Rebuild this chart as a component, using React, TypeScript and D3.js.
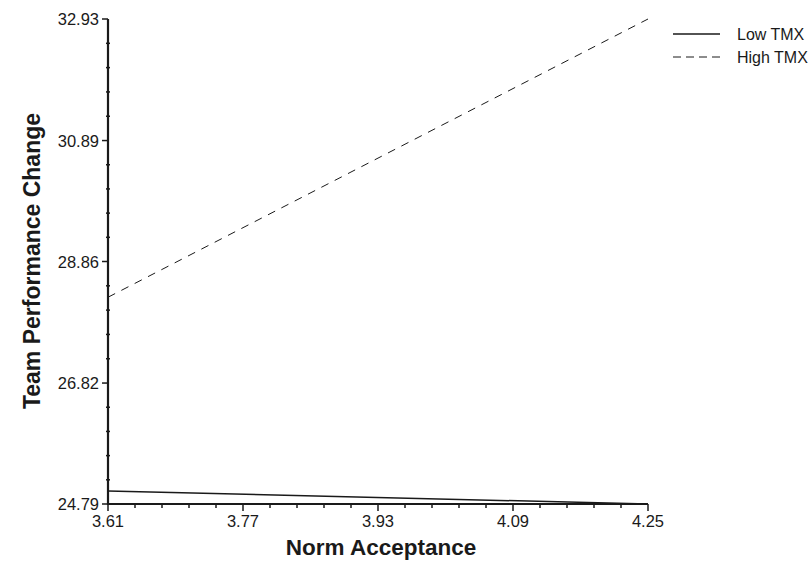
import React, { useEffect, useRef } from "react";
import * as d3 from "d3";

const xTicks = [3.61, 3.77, 3.93, 4.09, 4.25];
const yTicks = [24.79, 26.82, 28.86, 30.89, 32.93];
const seriesNames = ["Low TMX", "High TMX"];
const lowTmx = [25.01, 24.79];
const highTmx = [28.26, 32.93];

const W = 811;
const H = 561;

export default function App() {
  const ref = useRef<SVGSVGElement | null>(null);

  useEffect(() => {
    const svg = d3.select(ref.current);
    svg.selectAll("*").remove();

    const x = d3.scaleLinear().domain([3.61, 4.25]).range([108, 648]);
    const y = d3.scaleLinear().domain([24.79, 32.93]).range([504, 19]);
    const font = "'Liberation Sans', Arial, sans-serif";
    const ink = "#1a1a1a";

    const g = svg.append("g");

    // minor ticks (4 between majors)
    const minorX: number[] = [];
    const minorY: number[] = [];
    for (let i = 0; i < xTicks.length - 1; i++) {
      for (let k = 1; k < 5; k++) {
        minorX.push(xTicks[i] + ((xTicks[i + 1] - xTicks[i]) * k) / 5);
        minorY.push(yTicks[i] + ((yTicks[i + 1] - yTicks[i]) * k) / 5);
      }
    }

    g.selectAll(".mx")
      .data(minorX)
      .join("line")
      .attr("x1", (d) => x(d))
      .attr("x2", (d) => x(d))
      .attr("y1", 504)
      .attr("y2", 508)
      .attr("stroke", ink)
      .attr("stroke-width", 1.5);

    g.selectAll(".my")
      .data(minorY)
      .join("line")
      .attr("x1", 106)
      .attr("x2", 110)
      .attr("y1", (d) => y(d))
      .attr("y2", (d) => y(d))
      .attr("stroke", ink)
      .attr("stroke-width", 1.5);

    g.selectAll(".MX")
      .data(xTicks)
      .join("line")
      .attr("x1", (d) => x(d))
      .attr("x2", (d) => x(d))
      .attr("y1", 504)
      .attr("y2", 511)
      .attr("stroke", ink)
      .attr("stroke-width", 1.5);

    g.selectAll(".MY")
      .data(yTicks)
      .join("line")
      .attr("x1", 102)
      .attr("x2", 108)
      .attr("y1", (d) => y(d))
      .attr("y2", (d) => y(d))
      .attr("stroke", ink)
      .attr("stroke-width", 1.5);

    // axis lines
    g.append("line")
      .attr("x1", 108).attr("x2", 108)
      .attr("y1", y(32.93)).attr("y2", 505)
      .attr("stroke", ink).attr("stroke-width", 2.2);
    g.append("line")
      .attr("x1", 107).attr("x2", x(4.25))
      .attr("y1", 504).attr("y2", 504)
      .attr("stroke", ink).attr("stroke-width", 2.2);

    // tick labels
    g.selectAll(".xl")
      .data(xTicks)
      .join("text")
      .attr("x", (d) => x(d))
      .attr("y", 527)
      .attr("text-anchor", "middle")
      .attr("font-family", font)
      .attr("font-size", 16.5)
      .attr("fill", ink)
      .text((d) => d.toFixed(2));

    g.selectAll(".yl")
      .data(yTicks)
      .join("text")
      .attr("x", 99)
      .attr("y", (d) => y(d) + 6)
      .attr("text-anchor", "end")
      .attr("font-family", font)
      .attr("font-size", 16.5)
      .attr("fill", ink)
      .text((d) => d.toFixed(2));

    // axis titles
    g.append("text")
      .attr("x", 381)
      .attr("y", 555)
      .attr("text-anchor", "middle")
      .attr("font-family", font)
      .attr("font-weight", "bold")
      .attr("font-size", 22.5)
      .attr("fill", ink)
      .text("Norm Acceptance");

    g.append("text")
      .attr("transform", "translate(40,261) rotate(-90)")
      .attr("text-anchor", "middle")
      .attr("font-family", font)
      .attr("font-weight", "bold")
      .attr("font-size", 23)
      .attr("fill", ink)
      .text("Team Performance Change");

    // lines
    const line = d3
      .line<number>()
      .x((_, i) => x([xTicks[0], xTicks[xTicks.length - 1]][i]))
      .y((d) => y(d));

    g.append("path")
      .attr("d", line(lowTmx))
      .attr("fill", "none")
      .attr("stroke", ink)
      .attr("stroke-width", 1.5);

    g.append("path")
      .attr("d", line(highTmx))
      .attr("fill", "none")
      .attr("stroke", ink)
      .attr("stroke-width", 1)
      .attr("stroke-dasharray", "8,7");

    // legend
    const leg = g.append("g");
    seriesNames.forEach((name, i) => {
      const ly = 34 + i * 23;
      leg.append("line")
        .attr("x1", 673).attr("x2", 720)
        .attr("y1", ly).attr("y2", ly)
        .attr("stroke", ink)
        .attr("stroke-width", i === 0 ? 1.5 : 1)
        .attr("stroke-dasharray", i === 0 ? null : "8,5");
      leg.append("text")
        .attr("x", 737)
        .attr("y", ly + 6)
        .attr("font-family", font)
        .attr("font-size", 16)
        .attr("fill", ink)
        .text(name);
    });
  }, []);

  return (
    <svg
      ref={ref}
      width={W}
      height={H}
      style={{ position: "absolute", left: 0, top: 0, background: "#fff" }}
    />
  );
}
